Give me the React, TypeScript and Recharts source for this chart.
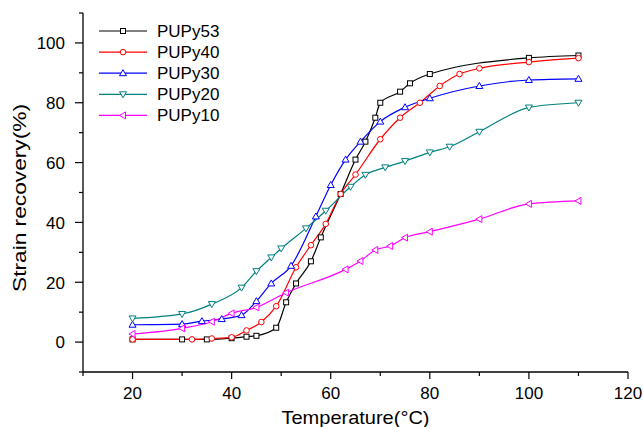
import React from "react";
import { LineChart, Line, XAxis, YAxis, Legend } from "recharts";

// temperatures (°C) and strain recovery (%)
const t53 = [20, 30, 35, 40, 43, 45, 49, 51, 53, 56, 58, 62, 65, 67, 69, 70, 74, 76, 80, 100, 110];
const v53 = [0.9, 0.9, 0.9, 1.3, 1.8, 2.1, 4.8, 13.3, 19.6, 27, 35, 49.5, 61, 67, 75, 80, 83.7, 86.5, 89.6, 95, 95.8];

const t40 = [20, 32, 36, 40, 43, 46, 49, 53, 56, 59, 62, 65, 70, 74, 78, 82, 86, 90, 100, 110];
const v40 = [0.9, 0.9, 1.2, 1.6, 3.9, 6.7, 12, 25, 32.4, 39.5, 49.5, 56, 67.8, 75, 80, 85.6, 89.6, 91.5, 93.6, 94.9];

const t30 = [20, 30, 34, 38, 42, 45, 48, 52, 57, 60, 63, 66, 70, 75, 80, 90, 100, 110];
const v30 = [5.8, 6, 7, 7.7, 9, 13.7, 19.6, 25.5, 42, 52.5, 61, 67, 73.7, 78.5, 81.5, 85.6, 87.6, 88];

const t20 = [20, 30, 36, 42, 45, 48, 50, 55, 59, 64, 67, 71, 75, 80, 84, 90, 100, 110];
const v20 = [7.9, 9.4, 12.7, 18.2, 23.7, 28.3, 31.3, 38, 43.9, 51.9, 55.9, 58.4, 60.5, 63.4, 65.3, 70.3, 78.4, 80];

const t10 = [20, 30, 36, 40, 45, 51, 63, 66, 69, 72, 75, 80, 90, 100, 110];
const v10 = [2.7, 4.6, 6.8, 9.6, 11.6, 16.5, 24.3, 27.1, 30.8, 32.1, 34.9, 36.9, 41.1, 46.2, 47.2];

const xTicks = [10, 20, 30, 40, 50, 60, 70, 80, 90, 100, 110, 120];
const yTicks = [-10, 0, 10, 20, 30, 40, 50, 60, 70, 80, 90, 100, 110];

const zip = (t: number[], v: number[]) => t.map((x, i) => ({ t: x, v: v[i] }));

const series = [
  { name: "PUPy53", data: zip(t53, v53), color: "#000000", shape: "square" },
  { name: "PUPy40", data: zip(t40, v40), color: "#ff0000", shape: "circle" },
  { name: "PUPy30", data: zip(t30, v30), color: "#0000ff", shape: "up" },
  { name: "PUPy20", data: zip(t20, v20), color: "#008080", shape: "down" },
  { name: "PUPy10", data: zip(t10, v10), color: "#ff00ff", shape: "left" },
];

const FONT = "'Liberation Sans', Arial, sans-serif";

function Marker({ shape, cx, cy, color }: { shape: string; cx: number; cy: number; color: string }) {
  const s = { fill: "#fff", stroke: color, strokeWidth: 1 };
  if (shape === "square") return <rect x={cx - 2.5} y={cy - 2.5} width={5} height={5} {...s} />;
  if (shape === "circle") return <circle cx={cx} cy={cy} r={2.8} {...s} />;
  if (shape === "up")
    return <polygon points={`${cx},${cy - 3.5} ${cx + 3.5},${cy + 2.5} ${cx - 3.5},${cy + 2.5}`} {...s} />;
  if (shape === "down")
    return <polygon points={`${cx},${cy + 3.5} ${cx + 3.5},${cy - 2.5} ${cx - 3.5},${cy - 2.5}`} {...s} />;
  return <polygon points={`${cx - 3.5},${cy} ${cx + 2.5},${cy - 3.5} ${cx + 2.5},${cy + 3.5}`} {...s} />;
}

const BottomTick = (props: any) => {
  const { x, y, payload } = props;
  const v = payload.value;
  const major = v % 20 === 0;
  return (
    <g>
      <line x1={x} x2={x} y1={y} y2={y + (major ? 7 : 4)} stroke="#000" strokeWidth={1.2} />
      {major && (
        <text x={x} y={y + 27} textAnchor="middle" fontSize={17} fontFamily={FONT} fill="#000">
          {v}
        </text>
      )}
    </g>
  );
};

const TopTick = (props: any) => {
  const { x, y } = props;
  return <line x1={x} x2={x} y1={y} y2={y + 3} stroke="#000" strokeWidth={1} />;
};

const LeftTick = (props: any) => {
  const { x, y, payload } = props;
  const v = payload.value;
  const major = v % 20 === 0;
  return (
    <g>
      <line x1={x} x2={x - (major ? 8 : 4)} y1={y} y2={y} stroke="#000" strokeWidth={1.2} />
      {major && (
        <text x={x - 18} y={y + 6.3} textAnchor="end" fontSize={17} fontFamily={FONT} fill="#000">
          {v}
        </text>
      )}
    </g>
  );
};

const RightTick = (props: any) => {
  const { x, y } = props;
  return <line x1={x} x2={x - 3} y1={y} y2={y} stroke="#000" strokeWidth={1} />;
};

const LegendBox = () => (
  <svg width={140} height={110} style={{ display: "block" }}>
    {series.map((s, i) => {
      const y = 10 + i * 21.1;
      return (
        <g key={s.name}>
          <line x1={4} x2={52} y1={y} y2={y} stroke={s.color} strokeWidth={1.2} />
          <Marker shape={s.shape} cx={28} cy={y} color={s.color} />
          <text x={62} y={y + 6} fontSize={17} fontFamily={FONT} fill="#000">
            {s.name}
          </text>
        </g>
      );
    })}
  </svg>
);

export default function App() {
  return (
    <div style={{ position: "absolute", left: 0, top: 0, background: "#fff" }}>
      <LineChart width={643} height={427} margin={{ top: 13, right: 15, bottom: 0, left: 0 }}>
        <XAxis
          dataKey="t"
          type="number"
          domain={[10, 120]}
          ticks={xTicks}
          interval={0}
          allowDataOverflow
          height={55}
          tickSize={0}
          tickMargin={0}
          tickLine={false}
          tick={BottomTick}
          axisLine={{ stroke: "#000", strokeWidth: 1.3 }}
          label={{
            content: (p: any) => {
              const vb = p.viewBox;
              return (
                <text
                  x={vb.x + vb.width / 2}
                  y={vb.y + 52}
                  textAnchor="middle"
                  fontSize={19}
                  textLength={148}
                  lengthAdjust="spacingAndGlyphs"
                  fontFamily={FONT}
                  fill="#000"
                >
                  Temperature(°C)
                </text>
              );
            },
          }}
        />
        <XAxis
          xAxisId="top"
          orientation="top"
          type="number"
          domain={[10, 120]}
          ticks={xTicks}
          interval={0}
          allowDataOverflow
          height={0}
          tickSize={0}
          tickMargin={0}
          tickLine={false}
          tick={TopTick}
          axisLine={{ stroke: "#000", strokeWidth: 1.3 }}
        />
        <YAxis
          type="number"
          domain={[-10, 110]}
          ticks={yTicks}
          interval={0}
          allowDataOverflow
          width={83}
          tickSize={0}
          tickMargin={0}
          tickLine={false}
          tick={LeftTick}
          axisLine={{ stroke: "#000", strokeWidth: 1.3 }}
          label={{
            content: () => (
              <text
                x={20}
                y={198}
                transform="rotate(-90 20 198)"
                textAnchor="middle"
                dominantBaseline="central"
                fontSize={18}
                textLength={188}
                lengthAdjust="spacingAndGlyphs"
                fontFamily={FONT}
                fill="#000"
              >
                Strain recovery(%)
              </text>
            ),
          }}
        />
        <YAxis
          yAxisId="right"
          orientation="right"
          type="number"
          domain={[-10, 110]}
          ticks={yTicks}
          interval={0}
          allowDataOverflow
          width={0}
          tickSize={0}
          tickMargin={0}
          tickLine={false}
          tick={RightTick}
          axisLine={{ stroke: "#000", strokeWidth: 1.3 }}
        />
        <Legend
          layout="vertical"
          align="center"
          verticalAlign="middle"
          wrapperStyle={{ left: 95, top: 21, width: 140, height: 110 }}
          content={() => <LegendBox />}
        />
        {series.map((s) => (
          <Line
            key={s.name}
            name={s.name}
            data={s.data}
            dataKey="v"
            type="monotone"
            stroke={s.color}
            strokeWidth={1.2}
            isAnimationActive={false}
            dot={(p: any) => (
              <Marker key={`${s.name}-${p.index}`} shape={s.shape} cx={p.cx} cy={p.cy} color={s.color} />
            )}
            activeDot={false}
          />
        ))}
      </LineChart>
    </div>
  );
}
